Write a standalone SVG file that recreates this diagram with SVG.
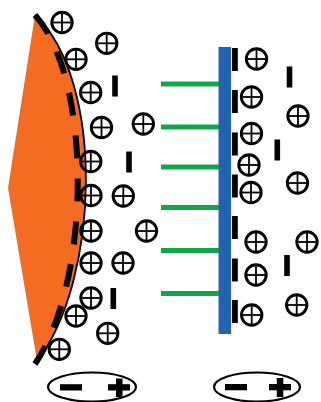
<svg xmlns="http://www.w3.org/2000/svg" xmlns:xlink="http://www.w3.org/1999/xlink" width="321" height="402" viewBox="0 0 321 402">
  <style>
    .ring { fill: none; stroke: #000; stroke-width: 2.9; }
    .cross { stroke: #000; stroke-width: 1.8; }
    .anion { fill: #000; }
    .lead { stroke: #12A64B; stroke-width: 5; }
    .cap { fill: #fff; stroke: #000; stroke-width: 2.2; }
  </style>
  <defs>
    <!-- cation: circled plus -->
    <g id="cation">
      <circle class="ring" cx="0" cy="0" r="10.2"/>
      <line class="cross" x1="-9" y1="0" x2="9" y2="0"/>
      <line class="cross" x1="0" y1="-9" x2="0" y2="9"/>
    </g>
    <rect id="anion" class="anion" x="-2.8" y="-10.5" width="5.6" height="21"/>
    <rect id="wall-anion" class="anion" x="0" y="0" width="5.8" height="23"/>
  </defs>

  <!-- electrode body -->
  <path d="M35,15 C105,80 100,280 37,361 L8,188 Z" fill="#F36C21"/>
  <path d="M35,15 C105,80 100,280 37,361" fill="none" stroke="#000" stroke-width="1.8"/>
  <path d="M35,15 C92,78 92,280 35,364" fill="none" stroke="#000" stroke-width="6" stroke-dasharray="23 20"/>

  <!-- membrane and tethers -->
  <g id="tethers">
    <line class="lead" x1="161" y1="84" x2="219" y2="84"/>
    <line class="lead" x1="161" y1="127" x2="219" y2="127"/>
    <line class="lead" x1="161" y1="167" x2="219" y2="167"/>
    <line class="lead" x1="161" y1="207.5" x2="219" y2="207.5"/>
    <line class="lead" x1="161" y1="250.5" x2="219" y2="250.5"/>
    <line class="lead" x1="161" y1="293.5" x2="219" y2="293.5"/>
  </g>
  <rect id="membrane" x="218.5" y="47" width="12.5" height="287" fill="#2364B0"/>

  <!-- bound anions on membrane -->
  <g id="wall-anions">
    <use xlink:href="#wall-anion" x="232" y="48"/>
    <use xlink:href="#wall-anion" x="232" y="90"/>
    <use xlink:href="#wall-anion" x="232" y="132.5"/>
    <use xlink:href="#wall-anion" x="232" y="174.5"/>
    <use xlink:href="#wall-anion" x="232" y="216"/>
    <use xlink:href="#wall-anion" x="232" y="258.5"/>
    <use xlink:href="#wall-anion" x="232" y="300"/>
  </g>

  <!-- left electrolyte ions -->
  <g id="left-ions">
    <use xlink:href="#cation" x="62" y="22.5"/>
    <use xlink:href="#cation" x="106.7" y="43.3"/>
    <use xlink:href="#cation" x="76" y="59.3"/>
    <use xlink:href="#cation" x="90.7" y="92.5"/>
    <use xlink:href="#cation" x="101.5" y="127.5"/>
    <use xlink:href="#cation" x="143.3" y="124"/>
    <use xlink:href="#cation" x="90.8" y="161.5"/>
    <use xlink:href="#cation" x="91" y="195.5"/>
    <use xlink:href="#cation" x="123.3" y="196"/>
    <use xlink:href="#cation" x="91" y="231"/>
    <use xlink:href="#cation" x="146.5" y="231"/>
    <use xlink:href="#cation" x="91" y="263"/>
    <use xlink:href="#cation" x="123" y="263"/>
    <use xlink:href="#cation" x="91" y="298"/>
    <use xlink:href="#cation" x="76" y="316"/>
    <use xlink:href="#cation" x="107.7" y="333.3"/>
    <use xlink:href="#cation" x="59.3" y="349.3"/>
    <use xlink:href="#anion" x="115" y="86"/>
    <use xlink:href="#anion" x="129" y="162"/>
    <use xlink:href="#anion" x="113.3" y="298.5"/>
  </g>

  <!-- right electrolyte ions -->
  <g id="right-ions">
    <use xlink:href="#cation" x="256.5" y="59"/>
    <use xlink:href="#cation" x="251.5" y="97"/>
    <use xlink:href="#cation" x="298" y="116"/>
    <use xlink:href="#cation" x="251.5" y="133.5"/>
    <use xlink:href="#cation" x="249" y="165"/>
    <use xlink:href="#cation" x="297.5" y="183"/>
    <use xlink:href="#cation" x="251" y="192.5"/>
    <use xlink:href="#cation" x="256" y="242"/>
    <use xlink:href="#cation" x="307" y="242"/>
    <use xlink:href="#cation" x="256" y="275"/>
    <use xlink:href="#cation" x="296.7" y="305"/>
    <use xlink:href="#cation" x="251.7" y="315"/>
    <use xlink:href="#anion" x="289.5" y="77"/>
    <use xlink:href="#anion" x="277.3" y="150"/>
    <use xlink:href="#anion" x="287" y="265.5"/>
  </g>

  <!-- polarity badges -->
  <g id="polarity-left">
    <ellipse class="cap" cx="92" cy="387" rx="44" ry="14.5"/>
    <rect x="60" y="384.2" width="22" height="6.3" fill="#000"/>
    <rect x="108" y="384.2" width="22" height="6.3" fill="#000"/>
    <rect x="116" y="378.5" width="6.5" height="18.5" fill="#000"/>
  </g>
  <g id="polarity-right">
    <ellipse class="cap" cx="257" cy="387" rx="43" ry="14.5"/>
    <rect x="225" y="384" width="22" height="6.3" fill="#000"/>
    <rect x="269" y="384" width="22" height="6.3" fill="#000"/>
    <rect x="276.8" y="378" width="6.5" height="19" fill="#000"/>
  </g>
</svg>
